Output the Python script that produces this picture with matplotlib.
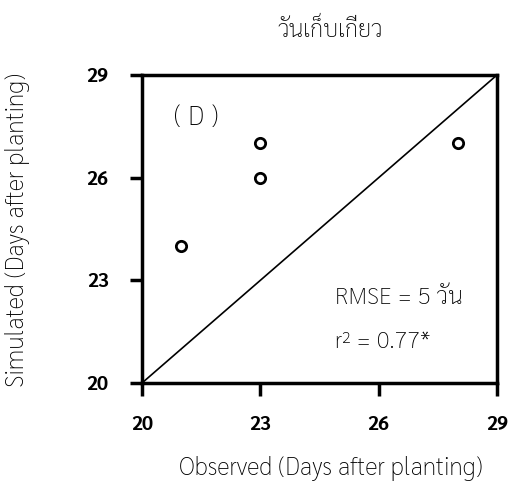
import matplotlib
matplotlib.use("Agg")
import matplotlib.pyplot as plt

observed = [21, 23, 23, 28]
simulated = [24, 27, 26, 27]
ticks = [20, 23, 26, 29]

plt.rcParams['font.family'] = ['Sarabun', 'DejaVu Sans']

fig = plt.figure(figsize=(5.19, 4.98), dpi=100)
ax = fig.add_axes([142/519, 1-383/498, (497-142)/519, (383-75)/498])

ax.plot([20, 29], [20, 29], color='black', lw=1.2)
ax.scatter(observed, simulated, s=55, facecolors='white', edgecolors='black', linewidths=2, zorder=3)

ax.set_xlim(20, 29)
ax.set_ylim(20, 29)
ax.set_xticks(ticks)
ax.set_yticks(ticks)
ax.tick_params(direction='out', length=9, width=2.5, labelsize=14, pad=15)
for lab in ax.get_xticklabels() + ax.get_yticklabels():
    lab.set_fontweight('bold')
for sp in ax.spines.values():
    sp.set_linewidth(2.5)

ax.text(21.37, 27.75, '( D )', fontsize=19, fontweight='light', ha='center', va='center')
ax.text(24.9, 22.5, 'RMSE = 5 วัน', fontsize=17, fontweight='light', va='center')
ax.text(24.9, 21.2, 'r² = 0.77*', fontsize=17, fontweight='light', va='center')

fig.text(330/519, 1-30/498, 'วันเก็บเกี่ยว', fontsize=17, fontweight='light', ha='center', va='center')
fig.text(331/519, 1-468/498, 'Observed (Days after planting)', fontsize=17.5, fontweight='light', ha='center', va='center')
fig.text(18/519, 1-230/498, 'Simulated (Days after planting)', fontsize=17.5, fontweight='light', ha='center', va='center', rotation=90)

fig.savefig('out.png', dpi=100)
